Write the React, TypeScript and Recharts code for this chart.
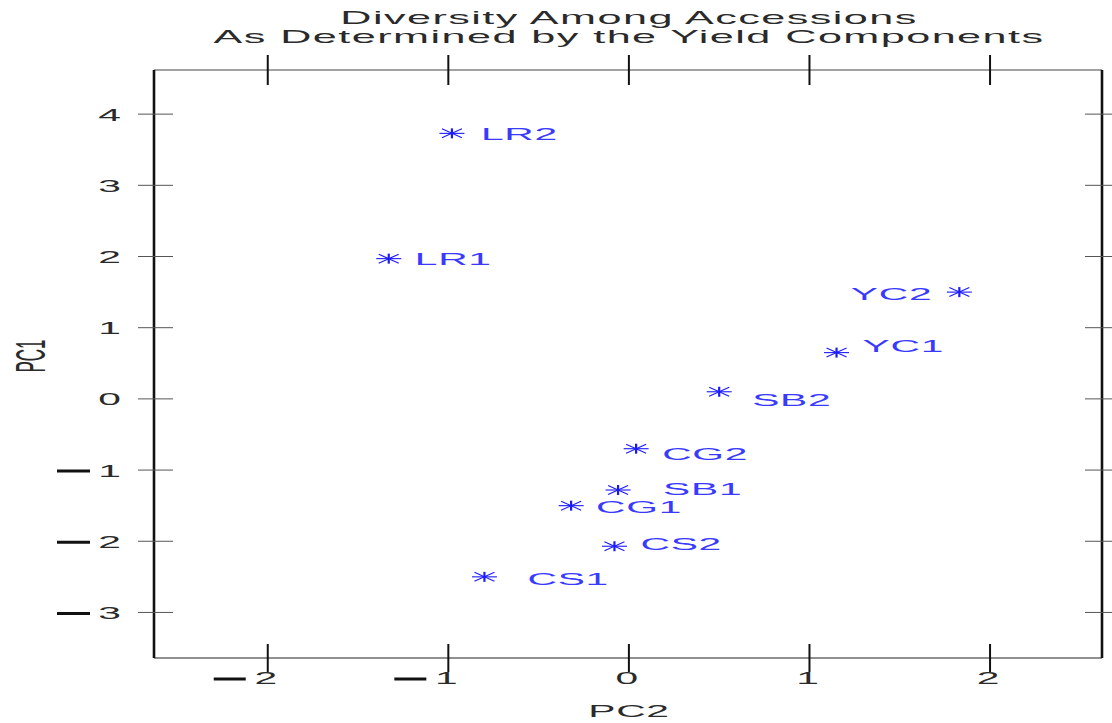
import React from 'react';
import { ScatterChart, Scatter, XAxis, YAxis } from 'recharts';

// accessions scored on the first two principal components
const accessions = ['LR2', 'LR1', 'YC2', 'YC1', 'SB2', 'CG2', 'SB1', 'CG1', 'CS2', 'CS1'];
const pc2Scores = [-0.98, -1.33, 1.83, 1.15, 0.5, 0.04, -0.06, -0.32, -0.08, -0.8];
const pc1Scores = [3.73, 1.97, 1.5, 0.65, 0.1, -0.7, -1.28, -1.5, -2.07, -2.5];

const xTicks = [-2, -1, 0, 1, 2];
const yTicks = [-3, -2, -1, 0, 1, 2, 3, 4];
const xDomain = [-2.63, 2.62];
const yDomain = [-3.64, 4.62];

// where each label sits next to its marker
const labelLayout: Record<string, { dx: number; dy: number; anchor: 'start' | 'end' }> = {
  LR2: { dx: 29, dy: 0, anchor: 'start' },
  LR1: { dx: 26, dy: 0, anchor: 'start' },
  YC2: { dx: -27, dy: 2, anchor: 'end' },
  YC1: { dx: 26, dy: -7, anchor: 'start' },
  SB2: { dx: 33, dy: 8, anchor: 'start' },
  CG2: { dx: 26, dy: 5, anchor: 'start' },
  SB1: { dx: 45, dy: -1, anchor: 'start' },
  CG1: { dx: 25, dy: 1, anchor: 'start' },
  CS2: { dx: 26, dy: -3, anchor: 'start' },
  CS1: { dx: 43, dy: 2, anchor: 'start' },
};

const points = accessions.map((name, i) => ({ name, x: pc2Scores[i], y: pc1Scores[i] }));

const FONT = '"Liberation Sans", Arial, sans-serif';
const SX = 2.4;
const INK = '#2a2a2a';
const BLUE = '#3a3aff';

const Wide = ({ x, y, children, anchor = 'middle', size = 17, fill = INK, spacing = 0.3 }: any) => (
  <text
    transform={`translate(${x},${y}) scale(${SX},1)`}
    textAnchor={anchor}
    fontFamily={FONT}
    fontSize={size}
    letterSpacing={spacing}
    fill={fill}
  >
    {children}
  </text>
);

const BottomTick = ({ x, y, payload }: any) => {
  const v = payload.value as number;
  return (
    <g>
      <line x1={x} x2={x} y1={y - 14} y2={y + 14} stroke="#111" strokeWidth={2} />
      {v < 0 && <line x1={x - 54} x2={x - 22} y1={y + 21} y2={y + 21} stroke="#111" strokeWidth={3} />}
      <Wide x={x - 2} y={y + 26} spacing={0}>{Math.abs(v)}</Wide>
    </g>
  );
};

const TopTick = ({ x, y }: any) => (
  <line x1={x} x2={x} y1={y - 15} y2={y + 15} stroke="#111" strokeWidth={2} />
);

const LeftTick = ({ x, y, payload }: any) => {
  const v = payload.value as number;
  return (
    <g>
      <line x1={x - 16} x2={x + 19} y1={y} y2={y} stroke="#555" strokeWidth={1} />
      {v < 0 && <line x1={x - 97} x2={x - 64} y1={y + 1} y2={y + 1} stroke="#111" strokeWidth={3} />}
      <Wide x={x - 33} y={y + 6.5} anchor="end" spacing={0}>{Math.abs(v)}</Wide>
    </g>
  );
};

const RightTick = ({ x, y }: any) => (
  <line x1={x - 17} x2={x + 17} y1={y} y2={y} stroke="#555" strokeWidth={1} />
);

const Asterisk = (props: any) => {
  const { cx, cy, payload } = props;
  const lay = labelLayout[payload.name];
  return (
    <g>
      <g stroke="#1a1aff" strokeWidth={1.1}>
        <line x1={cx - 12.5} x2={cx + 12.5} y1={cy} y2={cy} />
        <line x1={cx - 10} x2={cx + 10} y1={cy - 4.5} y2={cy + 4.5} />
        <line x1={cx - 10} x2={cx + 10} y1={cy + 4.5} y2={cy - 4.5} />
        <line x1={cx} x2={cx} y1={cy - 5} y2={cy + 5} strokeWidth={2.2} />
      </g>
      <Wide x={cx + lay.dx} y={cy + lay.dy + 6.3} anchor={lay.anchor} fill={BLUE}>
        {payload.name}
      </Wide>
    </g>
  );
};

export default function App() {
  return (
    <div style={{ position: 'absolute', left: 0, top: 0, background: '#fff' }}>
      <ScatterChart width={1112} height={723} margin={{ top: 40, right: 5, bottom: 35, left: 94 }}>
        <XAxis
          type="number"
          dataKey="x"
          domain={xDomain}
          ticks={xTicks}
          allowDataOverflow
          height={30}
          tickSize={0}
          tickMargin={0}
          tickLine={false}
          axisLine={{ stroke: '#222', strokeWidth: 1.2 }}
          tick={<BottomTick />}
        />
        <XAxis
          xAxisId="top"
          orientation="top"
          type="number"
          dataKey="x"
          domain={xDomain}
          ticks={xTicks}
          allowDataOverflow
          height={30}
          tickSize={0}
          tickMargin={0}
          tickLine={false}
          axisLine={{ stroke: '#444', strokeWidth: 1.2 }}
          tick={<TopTick />}
        />
        <YAxis
          type="number"
          dataKey="y"
          domain={yDomain}
          ticks={yTicks}
          allowDataOverflow
          width={60}
          tickSize={0}
          tickMargin={0}
          tickLine={false}
          axisLine={{ stroke: '#111', strokeWidth: 2.6 }}
          tick={<LeftTick />}
        />
        <YAxis
          yAxisId="right"
          orientation="right"
          type="number"
          dataKey="y"
          domain={yDomain}
          ticks={yTicks}
          allowDataOverflow
          width={5}
          tickSize={0}
          tickMargin={0}
          tickLine={false}
          axisLine={{ stroke: '#111', strokeWidth: 2.6 }}
          tick={<RightTick />}
        />
        <Scatter data={points} shape={<Asterisk />} isAnimationActive={false} />
        <Scatter data={points} xAxisId="top" yAxisId="right" shape={() => <g />} isAnimationActive={false} />
        <Wide x={629} y={24} size={18} spacing={0.6}>Diversity Among Accessions</Wide>
        <Wide x={629} y={43} size={18} spacing={0.6}>As Determined by the Yield Components</Wide>
        <Wide x={629} y={717}>PC2</Wide>
        <text
          transform="translate(45,356) scale(2.5,1) rotate(-90)"
          textAnchor="middle"
          fontFamily={FONT}
          fontSize={17}
          fill={INK}
        >
          PC1
        </text>
      </ScatterChart>
    </div>
  );
}
